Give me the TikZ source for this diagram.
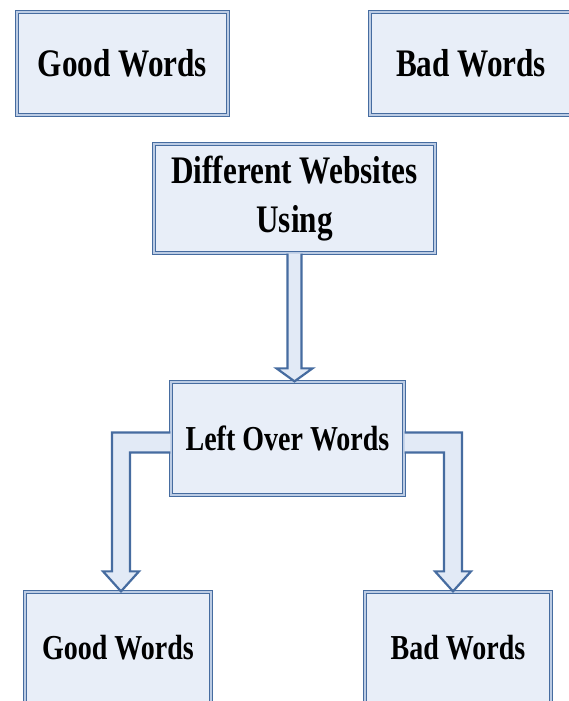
\documentclass[tikz,border=0pt]{standalone}
\usepackage{fontspec}
\setmainfont{Liberation Serif}[FakeStretch=0.8]
\usepackage{tikz}
\usetikzlibrary{calc}
\definecolor{boxline}{RGB}{70,108,160}
\definecolor{boxgap}{RGB}{188,204,228}
\definecolor{boxfill}{RGB}{232,238,248}
\definecolor{arrfill}{RGB}{226,234,246}
\newcommand{\bigtxt}{\fontsize{39}{49}\selectfont\bfseries}
\newcommand{\smalltxt}{\fontsize{35}{35}\selectfont\bfseries}
\tikzset{
  wbox/.style={draw=boxline, line width=1.3pt, double=boxgap, double distance=1.6pt,
    fill=boxfill, align=center, inner sep=0pt},
  blockarr/.style={draw=boxline, line width=2.2pt, fill=arrfill, line join=miter}
}

\begin{document}
\begin{tikzpicture}[x=1pt,y=-1pt]
\clip (0,0) rectangle (569,701);
\fill[white] (0,0) rectangle (569,701);
% boxes
\node[wbox, font=\bigtxt, minimum width=211, minimum height=103] (good1) at (122.5,63.5) {Good Words};
\node[wbox, font=\bigtxt, minimum width=202, minimum height=103] (bad1) at (471,63.5) {Bad Words};
\node[wbox, font=\bigtxt, minimum width=281, minimum height=109] (diff) at (294.5,198.5) {Different Websites\\Using};
\node[wbox, font=\smalltxt, minimum width=233, minimum height=113] (left) at (287.5,438.5) {Left Over Words};
\node[wbox, font=\smalltxt, minimum width=186, minimum height=112] (good2) at (118,648) {Good Words};
\node[wbox, font=\smalltxt, minimum width=186, minimum height=112] (bad2) at (458,648) {Bad Words};
% arrows
\coordinate (dtip) at (diff.south |- left.north);
\coordinate (ltip) at ($(good2.north)+(3,0)$);
\coordinate (rtip) at ($(bad2.north)+(-5,0)$);
\draw[blockarr] ($(diff.south)+(-7,0)$) -- ($(dtip)+(-7,-13)$) -- ($(dtip)+(-18,-13)$)
  -- (dtip) -- ($(dtip)+(18,-13)$) -- ($(dtip)+(7,-13)$) -- ($(diff.south)+(7,0)$);
\draw[blockarr] ($(left.west)+(0,-6)$) -- ($(ltip |- left.west)+(-9,-6)$) -- ($(ltip)+(-9,-20)$)
  -- ($(ltip)+(-18,-20)$) -- (ltip) -- ($(ltip)+(18,-20)$) -- ($(ltip)+(9,-20)$)
  -- ($(ltip |- left.west)+(9,14)$) -- ($(left.west)+(0,14)$);
\draw[blockarr] ($(left.east)+(0,-6)$) -- ($(rtip |- left.east)+(9,-6)$) -- ($(rtip)+(9,-20)$)
  -- ($(rtip)+(18,-20)$) -- (rtip) -- ($(rtip)+(-18,-20)$) -- ($(rtip)+(-9,-20)$)
  -- ($(rtip |- left.east)+(-9,14)$) -- ($(left.east)+(0,14)$);
\end{tikzpicture}
\end{document}
